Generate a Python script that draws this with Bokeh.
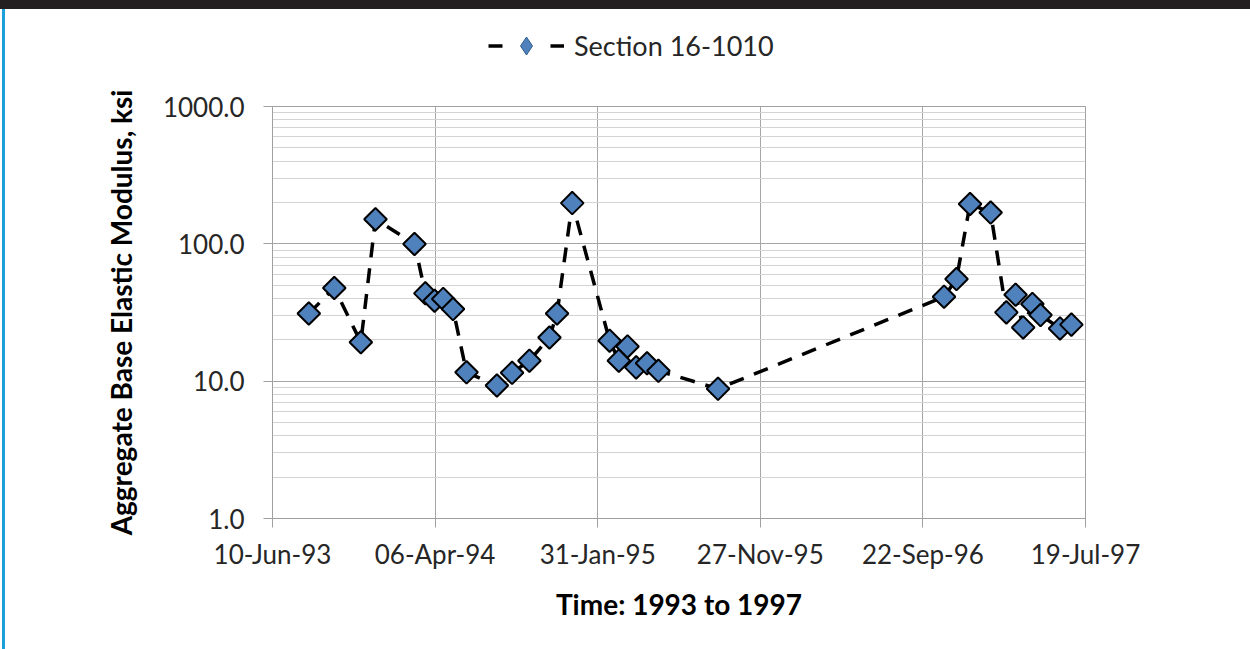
import numpy as np
import pandas as pd
from bokeh.plotting import figure
from bokeh.layouts import column, row
from bokeh.models import (Range1d, FixedTicker, DatetimeTickFormatter, PrintfTickFormatter,
                          Legend, LegendItem, Div)
from bokeh.embed import file_html
from bokeh.resources import INLINE

# ---- data ----
dates = ["1993-08-16", "1993-10-02", "1993-11-20", "1993-12-17", "1994-02-27",
         "1994-03-19", "1994-04-05", "1994-04-21", "1994-05-09", "1994-06-03",
         "1994-07-29", "1994-08-26", "1994-09-27", "1994-11-03", "1994-11-17",
         "1994-12-15", "1995-02-22", "1995-03-11", "1995-03-27", "1995-04-12",
         "1995-05-02", "1995-05-23", "1995-09-10", "1996-10-31", "1996-11-23",
         "1996-12-18", "1997-01-25", "1997-02-23", "1997-03-12", "1997-03-26",
         "1997-04-12", "1997-04-27", "1997-06-02", "1997-06-23"]
modulus = [31.1, 47.7, 19.2, 151.0, 99.7,
           43.6, 38.5, 39.7, 33.5, 11.6,
           9.3, 11.5, 14.1, 20.8, 31.1,
           198.0, 19.7, 14.1, 17.9, 12.6,
           13.5, 11.9, 8.8, 41.2, 55.4,
           195.0, 169.0, 31.7, 42.6, 24.6,
           36.5, 30.3, 24.2, 25.8]
series_name = "Section 16-1010"
x_tick_dates = ["1993-06-10", "1994-04-06", "1995-01-31", "1995-11-27", "1996-09-22", "1997-07-19"]
y_major_ticks = [1, 10, 100, 1000]
y_minor_ticks = [2, 3, 4, 5, 6, 7, 8, 9, 20, 30, 40, 50, 60, 70, 80, 90,
                 200, 300, 400, 500, 600, 700, 800, 900]
x_title = "Time: 1993 to 1997"
y_title = "Aggregate Base Elastic Modulus, ksi"

x = pd.to_datetime(dates)
tick_ms = [pd.Timestamp(d).value // 10**6 for d in x_tick_dates]

W = 1234
TOP_H = 75
MAIN_H = 549

# ---------------- page decorations ----------------
top_bar = Div(text="", width=1250, height=9, margin=0,
              styles={"background-color": "#231F20"})
side_bar = Div(text="", width=5, height=640, margin=0,
               styles={"background": "linear-gradient(to right, white 2px, #1BA0DC 2px)"})

# ---------------- legend strip ----------------
lp = figure(width=W, height=TOP_H, x_range=Range1d(0, 1), y_range=Range1d(0, 1),
            output_backend="svg", toolbar_location=None,
            x_axis_location=None, y_axis_location=None,
            min_border_left=0, min_border_right=0, min_border_top=0, min_border_bottom=0)
lp.xgrid.visible = False
lp.ygrid.visible = False
lp.outline_line_color = None
lp.border_fill_color = "white"

lg_line = lp.line([-1], [-1], line_color="black", line_width=3.5, line_dash="14 48")
lg_mark = lp.scatter([-1], [-1], marker="diamond", size=18,
                     fill_color="#4F81BD", line_color="#2F5F8F", line_width=1)
legend = Legend(items=[LegendItem(label=series_name, renderers=[lg_line, lg_mark])],
                location=(216, 16), orientation="horizontal",
                glyph_width=76, glyph_height=45, label_standoff=10,
                padding=0, margin=0, spacing=0,
                border_line_color=None, background_fill_alpha=0,
                label_text_font="Lato", label_text_font_size="27px",
                label_text_color="#262626")
lp.add_layout(legend)

# ---------------- main chart ----------------
p = figure(width=W, height=MAIN_H, x_axis_type="datetime", y_axis_type="log",
           x_range=Range1d(tick_ms[0], tick_ms[-1]), y_range=Range1d(1, 1000),
           output_backend="svg", toolbar_location=None,
           min_border_left=267, min_border_right=154, min_border_top=22, min_border_bottom=115)
p.outline_line_color = "#A0A0A0"
p.background_fill_color = "white"
p.border_fill_color = "white"

xt = FixedTicker(ticks=tick_ms)
p.xaxis.ticker = xt
p.xgrid.ticker = xt
fmt = "%d-%b-%y"
p.xaxis.formatter = DatetimeTickFormatter(microseconds=fmt, milliseconds=fmt, seconds=fmt,
                                          minsec=fmt, minutes=fmt, hourmin=fmt, hours=fmt,
                                          days=fmt, months=fmt, years=fmt)
yt = FixedTicker(ticks=y_major_ticks, minor_ticks=y_minor_ticks)
p.yaxis.ticker = yt
p.ygrid.ticker = yt
p.yaxis.formatter = PrintfTickFormatter(format="%.1f")

for ax in (p.xaxis[0], p.yaxis[0]):
    ax.axis_line_color = "#A0A0A0"
    ax.major_tick_line_color = "#A0A0A0"
    ax.major_tick_out = 9
    ax.major_tick_in = 0
    ax.minor_tick_out = 0
    ax.minor_tick_in = 0
    ax.major_label_text_font = "Lato"
    ax.major_label_text_font_size = "26px"
    ax.major_label_text_color = "#262626"
    ax.axis_label_text_font = "Lato"
    ax.axis_label_text_font_style = "bold"
    ax.axis_label_text_color = "black"

p.xaxis.axis_label = x_title
p.yaxis.axis_label = y_title
p.xaxis.axis_label_text_font_size = "28px"
p.yaxis.axis_label_text_font_size = "28px"
p.xaxis.major_label_standoff = 10
p.yaxis.major_label_standoff = 19
p.xaxis.axis_label_standoff = 14
p.yaxis.axis_label_standoff = 22

p.xgrid.grid_line_color = "#A6A6A6"
p.ygrid.grid_line_color = "#A6A6A6"
p.ygrid.minor_grid_line_color = "#D3D3D3"

p.line(x, modulus, line_color="black", line_width=3.5, line_dash="15 11")
p.scatter(x, modulus, marker="square", angle=np.pi / 4, size=16,
          fill_color="#4F81BD", line_color="black", line_width=2)

layout = column(top_bar, row(side_bar, column(lp, p, spacing=0), spacing=0), spacing=0)
open("out.html", "w").write(file_html(layout, INLINE))
